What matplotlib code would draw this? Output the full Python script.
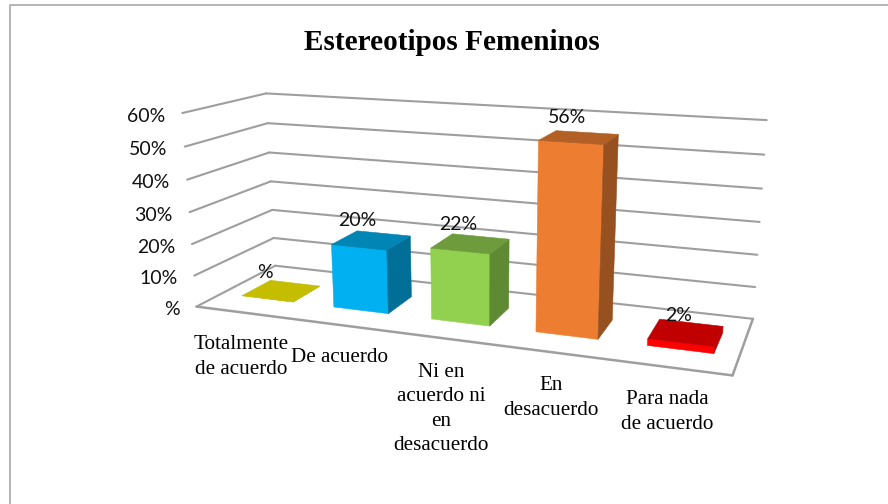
import numpy as np
import matplotlib
matplotlib.use("Agg")
import matplotlib.pyplot as plt
from matplotlib.patches import Polygon

categories = ["Totalmente\nde acuerdo", "De acuerdo", "Ni en\nacuerdo ni\nen\ndesacuerdo",
              "En\ndesacuerdo", "Para nada\nde acuerdo"]
values = [0, 20, 22, 56, 2]
value_labels = ["%", "20%", "22%", "56%", "2%"]
ticks = [0, 10, 20, 30, 40, 50, 60]
tick_labels = ["%", "10%", "20%", "30%", "40%", "50%", "60%"]

front_colors = ["#C4BD00", "#00B0F0", "#92D050", "#ED7D31", "#FF0000"]
top_colors = ["#C4BD00", "#0085B5", "#6E9C3C", "#B26025", "#C00000"]
side_colors = ["#948F00", "#006F97", "#5E8A34", "#975020", "#C00000"]

GRID = "#9E9E9E"
BAR_X = (0.225, 0.79)
BAR_Z = (0.30, 0.67)


def fit_camera():
    # (category, value, depth) -> pixel, fitted on the corners of the chart box
    world = [(0, 0, 0), (0, 60, 0), (0, 0, 1), (0, 60, 1), (5, 0, 1), (5, 60, 1), (5, 0, 0)]
    pixel = [(196, 306.7), (182.7, 113.3), (275.7, 265.5), (265.7, 93.3),
             (752.7, 319.3), (766.7, 120), (732.7, 375)]
    rows = []
    rhs = []
    for (x, y, z), (u, v) in zip(world, pixel):
        rows.append([x, y, z, 1, 0, 0, 0, 0, -u * x, -u * y, -u * z])
        rhs.append(u)
        rows.append([0, 0, 0, 0, x, y, z, 1, -v * x, -v * y, -v * z])
        rhs.append(v)
    p = np.linalg.lstsq(np.array(rows, float), np.array(rhs, float), rcond=None)[0]
    return np.append(p, 1).reshape(3, 4)


camera = fit_camera()


def project(x, y, z):
    u, v, w = camera @ np.array([x, y, z, 1.0])
    return u / w, v / w


fig = plt.figure(figsize=(8.88, 5.04), dpi=100)
ax = fig.add_axes([0, 0, 1, 1])
ax.set_xlim(0, 888)
ax.set_ylim(504, 0)
ax.axis("off")

# outer frame of the picture
ax.plot([9.5, 9.5, 888], [504, 4.5, 4.5], color="#B4B4B4", lw=1.4)


def line(a, b, lw=1.5):
    (x0, y0), (x1, y1) = project(*a), project(*b)
    ax.plot([x0, x1], [y0, y1], color=GRID, lw=lw, solid_capstyle="round", zorder=1)


n = len(categories)
for t in ticks:
    line((0, t, 0), (0, t, 1))
    line((0, t, 1), (n, t, 1))
line((0, 0, 0), (n, 0, 0), lw=1.8)
line((n, 0, 0), (n, 0, 1), lw=1.8)

for t, lab in zip(ticks, tick_labels):
    u, v = project(0, t, 0)
    ax.text(u - 17, v + 3, lab, ha="right", va="center", family="Lato", fontsize=14, color="#111111")

label_dx = [-2, -2, -2, -4, -2]
label_dy = [-8, -10, -9, -13, -4]
for i, val in enumerate(values):
    x0, x1 = i + BAR_X[0], i + BAR_X[1]
    z0, z1 = BAR_Z
    faces = [
        ([(x0, 0, z0), (x1, 0, z0), (x1, val, z0), (x0, val, z0)], front_colors[i]),
        ([(x1, 0, z0), (x1, 0, z1), (x1, val, z1), (x1, val, z0)], side_colors[i]),
        ([(x0, val, z0), (x1, val, z0), (x1, val, z1), (x0, val, z1)], top_colors[i]),
    ]
    for corners, color in faces:
        ax.add_patch(Polygon([project(*c) for c in corners], closed=True,
                             facecolor=color, edgecolor=color, lw=0.4, zorder=2))
    u = project((x0 + x1) / 2, val, z0)[0]
    v = project(x0, val, z1)[1]
    ax.text(u + label_dx[i], v + label_dy[i], value_labels[i], ha="center", va="center", family="Lato",
            fontsize=14, color="#111111", zorder=3)

ax.text(452, 43, "Estereotipos Femeninos", ha="center", va="center",
        family="Liberation Serif", weight="bold", fontsize=21.1, color="black")

label_x = [241, 339, 441, 551, 667]
label_y = [357, 358, 409, 398, 412]
for lab, lx, ly in zip(categories, label_x, label_y):
    ax.text(lx, ly, lab, ha="center", va="center", family="Liberation Serif",
            fontsize=15.2, linespacing=1.37, color="black")

fig.savefig("out.png", dpi=100)
